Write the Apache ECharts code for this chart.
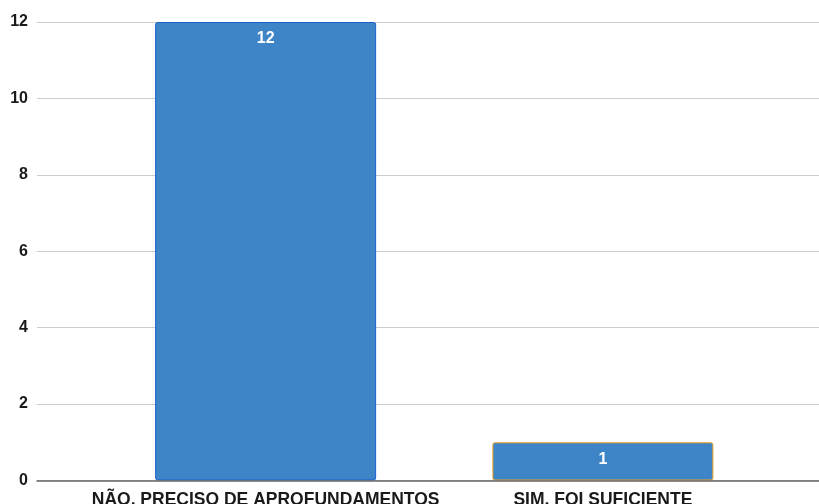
<!DOCTYPE html>
<html><head><meta charset="utf-8">
<script src="https://cdn.jsdelivr.net/npm/echarts@6/dist/echarts.min.js"></script>
<style>html,body{margin:0;padding:0;background:#fff}#c{width:819px;height:504px}</style>
</head><body><div id="c"></div>
<script>
const categories = ["NÃO, PRECISO DE APROFUNDAMENTOS", "SIM, FOI SUFICIENTE"];
const values = [12, 1];
const yTicks = [0, 2, 4, 6, 8, 10, 12];

const chart = echarts.init(document.getElementById('c'), null, {renderer: 'canvas'});
const font = '"Liberation Sans", Arial, sans-serif';
chart.setOption({
  animation: false,
  grid: [
    {left: 37, right: 0, top: 22, bottom: 23.5, containLabel: false, outerBoundsMode: 'none'},
    {left: 97, right: 47.5, top: 22, bottom: 23.5, containLabel: false, outerBoundsMode: 'none'}
  ],
  xAxis: [
    {type: 'category', gridIndex: 0, data: categories,
     axisLine: {show: true, lineStyle: {color: '#666', width: 1.5}},
     axisTick: {show: false}, axisLabel: {show: false}, z: 5},
    {type: 'category', gridIndex: 1, data: categories,
     axisLine: {show: false}, axisTick: {show: false},
     axisLabel: {show: true, interval: 0, hideOverlap: false, color: '#1a1a1a', fontWeight: 'bold', fontSize: 17.5, fontFamily: font, margin: 11}}
  ],
  yAxis: [
    {type: 'value', gridIndex: 0, min: yTicks[0], max: yTicks[yTicks.length-1], interval: 2,
     axisLine: {show: false}, axisTick: {show: false},
     axisLabel: {color: '#1a1a1a', fontWeight: 'bold', fontSize: 16, fontFamily: font, margin: 9},
     splitLine: {lineStyle: {color: '#cccccc', width: 1}}},
    {type: 'value', gridIndex: 1, min: yTicks[0], max: yTicks[yTicks.length-1], interval: 2,
     show: false, splitLine: {show: false}}
  ],
  series: [{
    type: 'bar', xAxisIndex: 1, yAxisIndex: 1, barWidth: 221,
    data: values.map((v, i) => ({
      value: v,
      itemStyle: {color: '#3d85c6', borderColor: i === 0 ? '#1a5fd0' : '#f0a020', borderWidth: 1, borderRadius: 2}
    })),
    label: {show: true, position: 'insideTop', distance: 9, color: '#fff', fontWeight: 'bold', fontSize: 16, fontFamily: font},
    z: 3
  }]
});
</script></body></html>
